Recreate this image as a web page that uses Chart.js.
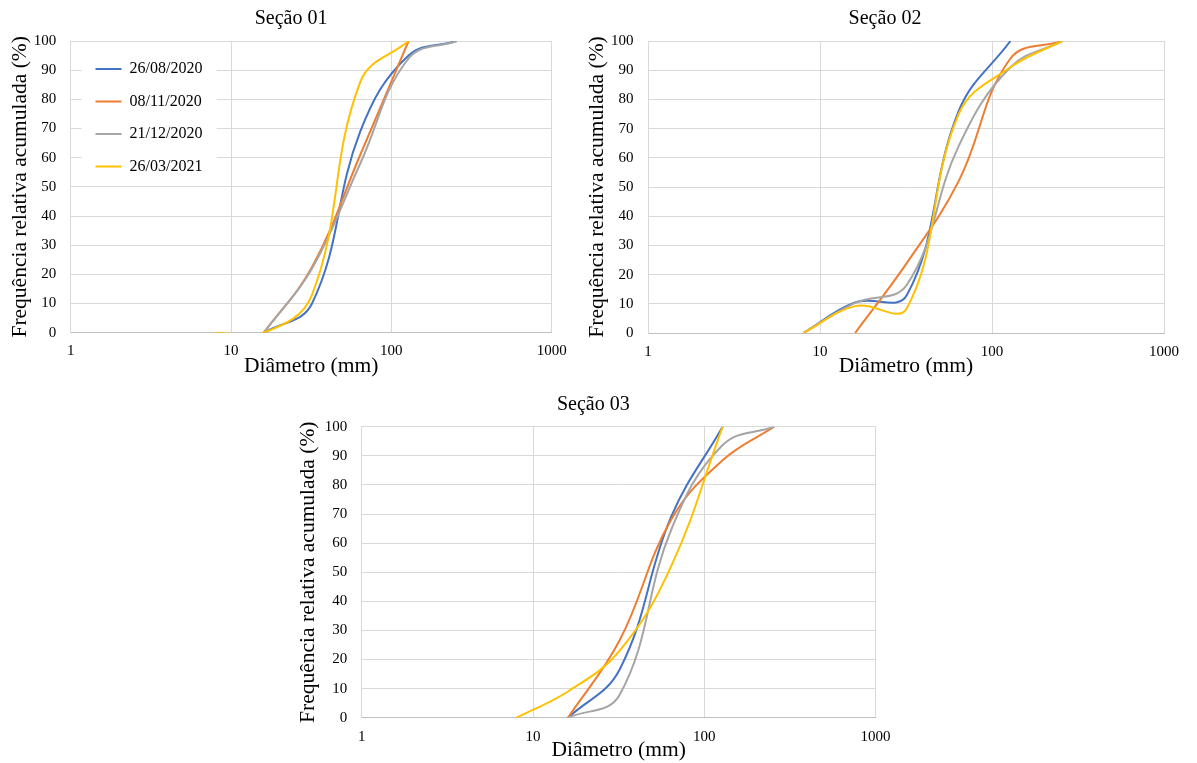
<!DOCTYPE html>
<html><head><meta charset="utf-8">
<script src="https://cdn.jsdelivr.net/npm/chart.js@4.4.1/dist/chart.umd.min.js"></script>
<style>
html,body{margin:0;padding:0;background:#fff;width:1197px;height:763px;overflow:hidden;}
canvas{position:absolute;}
</style></head><body>
<canvas id="c1" width="582" height="380" style="left:0px;top:0px"></canvas>
<canvas id="c2" width="624" height="380" style="left:573px;top:0px"></canvas>
<canvas id="c3" width="626" height="383" style="left:280px;top:380px"></canvas>
<script>
// ---------- text ----------
const SERIES_LABELS = ['26/08/2020', '08/11/2020', '21/12/2020', '26/03/2021'];
const SECTION_TITLES = ['Seção 01', 'Seção 02', 'Seção 03'];
const Y_TITLE = 'Frequência relativa acumulada (%)';
const X_TITLE = 'Diâmetro (mm)';
const X_TICKS = [1, 10, 100, 1000];
const Y_MIN = 0, Y_MAX = 100, Y_STEP = 10;

// ---------- data: diameters (mm) and cumulative frequency (%) ----------
// Seção 01
const s1_diam_260820 = [16, 32, 64, 128, 256];
const s1_freq_260820 = [0, 10, 69, 95, 100];
const s1_diam_081120 = [16, 32, 64, 128];
const s1_freq_081120 = [0, 22.5, 61, 100];
const s1_diam_211220 = [16, 32, 64, 128, 256];
const s1_freq_211220 = [0, 22, 58, 94, 100];
const s1_diam_260321 = [8, 16, 32, 64, 128];
const s1_freq_260321 = [0, 0, 13, 86, 100];
// Seção 02
const s2_diam_260820 = [8, 16, 32, 64, 128];
const s2_freq_260820 = [0, 10.5, 13, 76, 100];
const s2_diam_081120 = [16, 32, 64, 128, 256];
const s2_freq_081120 = [0, 24, 52, 94, 100];
const s2_diam_211220 = [8, 16, 32, 64, 128, 256];
const s2_freq_211220 = [0, 10.3, 16.5, 64, 91, 100];
const s2_diam_260321 = [8, 16, 32, 64, 128, 256];
const s2_freq_260321 = [0, 9.2, 8.5, 75, 91, 100];
// Seção 03
const s3_diam_260820 = [16, 32, 64, 128];
const s3_freq_260820 = [0, 16.5, 69, 100];
const s3_diam_081120 = [16, 32, 64, 128, 256];
const s3_freq_081120 = [0, 26.5, 68, 88.5, 100];
const s3_diam_211220 = [16, 32, 64, 128, 256];
const s3_freq_211220 = [0, 7.8, 64.5, 93.7, 100];
const s3_diam_260321 = [8, 16, 32, 64, 128];
const s3_freq_260321 = [0, 9, 23, 52, 100];

// ---------- styles ----------
const COLORS = ['#4472C4', '#ED7D31', '#A5A5A5', '#FFC000'];
const FONT = "'Liberation Serif', 'Times New Roman', serif";

function pts(d, f) { return d.map((x, i) => ({ x: x, y: f[i] })); }

function buildDatasets(series) {
  return series.map((s, i) => ({
    label: SERIES_LABELS[i],
    data: pts(s[0], s[1]),
    borderColor: COLORS[i],
    backgroundColor: COLORS[i],
    borderWidth: 2,
    pointRadius: 0,
    pointHoverRadius: 0,
    showLine: true,
    fill: false,
    tension: 0.4,
    capBezierPoints: false,
    order: 3 - i
  }));
}

// shifts the title horizontally, places the legend inside the plot and gives it a white box
const layoutTweaks = {
  id: 'layoutTweaks',
  afterLayout(chart, args, opts) {
    if (!opts) return;
    if (chart.titleBlock && opts.titleDx) {
      chart.titleBlock.left += opts.titleDx;
      chart.titleBlock.right += opts.titleDx;
    }
    if (!opts.legend || !chart.legend) return;
    const lg = chart.legend, a = chart.chartArea;
    lg.left = a.left + opts.dx;
    lg.top = a.top + opts.dy;
    if (!lg._wrappedDraw) {
      const orig = lg.draw.bind(lg);
      lg.draw = function () {
        const ctx = chart.ctx, ca = chart.chartArea, b = opts.box;
        ctx.save();
        ctx.fillStyle = '#ffffff';
        ctx.fillRect(ca.left + b[0], ca.top + b[1], b[2], b[3]);
        ctx.restore();
        orig();
      };
      lg._wrappedDraw = true;
    }
  }
};

function makeChart(id, title, series, L) {
  const cfg = {
    type: 'scatter',
    data: { datasets: buildDatasets(series) },
    options: {
      responsive: false,
      animation: false,
      devicePixelRatio: 1,
      layout: { autoPadding: false, padding: { left: 0, top: 0, right: L.padRight, bottom: 0 } },
      plugins: {
        title: {
          display: true, text: title, color: '#000',
          font: { family: FONT, size: 20, weight: 'normal' },
          padding: { top: L.titleTop, bottom: L.titleBottom }
        },
        legend: {
          display: L.legend,
          position: 'chartArea',
          align: 'start',
          labels: {
            usePointStyle: true, pointStyle: 'line', pointStyleWidth: 26,
            color: '#000', padding: 16.5,
            font: { family: FONT, size: 16 },
            sort: (a, b) => a.datasetIndex - b.datasetIndex
          }
        },
        tooltip: { enabled: false },
        layoutTweaks: { titleDx: L.titleDx, legend: L.legend, dx: 8.3, dy: 3.5, box: [11, 9, 135, 127] }
      },
      scales: {
        x: {
          type: 'logarithmic', min: X_TICKS[0], max: X_TICKS[X_TICKS.length - 1],
          afterBuildTicks: (s) => { s.ticks = X_TICKS.map(v => ({ value: v })); },
          afterFit: (s) => { s.height = L.xAxisH; },
          ticks: {
            autoSkip: false, maxRotation: 0, color: '#000', padding: L.xTickPad,
            font: { family: FONT, size: 15 },
            callback: (v) => String(v)
          },
          grid: { color: '#d9d9d9', drawTicks: false },
          border: { color: '#bfbfbf' },
          title: {
            display: true, text: X_TITLE, color: '#000',
            font: { family: FONT, size: 21.5 },
            padding: { top: 0, bottom: L.xTitleBottom }
          }
        },
        y: {
          min: Y_MIN, max: Y_MAX,
          afterFit: (s) => { s.width = L.yAxisW; },
          ticks: {
            stepSize: Y_STEP, color: '#000', padding: 14.5,
            font: { family: FONT, size: 15 }
          },
          grid: { color: '#d9d9d9', drawTicks: false },
          border: { color: '#d9d9d9' },
          title: {
            display: true, text: Y_TITLE, color: '#000',
            font: { family: FONT, size: 21.5 },
            padding: { top: L.yTitleTop, bottom: 0 }
          }
        }
      }
    },
    plugins: [layoutTweaks]
  };
  return new Chart(document.getElementById(id), cfg);
}

makeChart('c1', SECTION_TITLES[0], [
  [s1_diam_260820, s1_freq_260820], [s1_diam_081120, s1_freq_081120],
  [s1_diam_211220, s1_freq_211220], [s1_diam_260321, s1_freq_260321]
], { padRight: 30.3, titleDx: 15.2, yAxisW: 70.7, xAxisH: 47.3, titleTop: 6.5, titleBottom: 10.5,
     yTitleTop: 7.1, xTitleBottom: 1.1, xTickPad: 9.8, legend: true });

makeChart('c2', SECTION_TITLES[1], [
  [s2_diam_260820, s2_freq_260820], [s2_diam_081120, s2_freq_081120],
  [s2_diam_211220, s2_freq_211220], [s2_diam_260321, s2_freq_260321]
], { padRight: 33, titleDx: 16.5, yAxisW: 75, xAxisH: 47, titleTop: 6.5, titleBottom: 10.5,
     yTitleTop: 11.1, xTitleBottom: 1.1, xTickPad: 9.8, legend: false });

makeChart('c3', SECTION_TITLES[2], [
  [s3_diam_260820, s3_freq_260820], [s3_diam_081120, s3_freq_081120],
  [s3_diam_211220, s3_freq_211220], [s3_diam_260321, s3_freq_260321]
], { padRight: 30.4, titleDx: 15.5, yAxisW: 81.7, xAxisH: 45.3, titleTop: 12.5, titleBottom: 10.2,
     yTitleTop: 15.1, xTitleBottom: 0.1, xTickPad: 10.3, legend: false });
</script>
</body></html>
